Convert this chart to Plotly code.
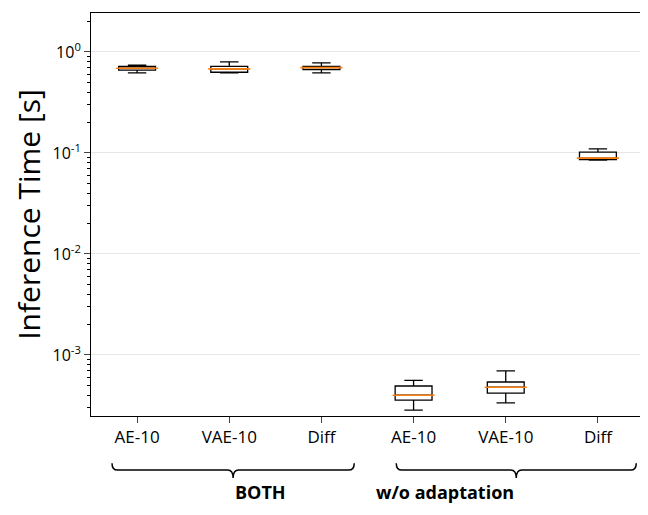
import plotly.graph_objects as go

positions = [0, 1, 2, 3, 4, 5]
tick_labels = ["AE-10", "VAE-10", "Diff", "AE-10", "VAE-10", "Diff"]
groups = ["BOTH", "w/o adaptation"]

lower = [0.62, 0.62, 0.62, 2.85e-4, 3.35e-4, 0.085]
q1 = [0.66, 0.63, 0.67, 3.58e-4, 4.2e-4, 0.086]
median = [0.69, 0.68, 0.70, 4.0e-4, 4.8e-4, 0.089]
q3 = [0.72, 0.72, 0.72, 4.93e-4, 5.4e-4, 0.102]
upper = [0.74, 0.80, 0.78, 5.6e-4, 6.95e-4, 0.11]

fig = go.Figure()
fig.add_trace(go.Box(x=positions, q1=q1, median=median, q3=q3,
                     lowerfence=lower, upperfence=upper,
                     fillcolor="white", line=dict(color="black", width=1.3),
                     width=0.4, whiskerwidth=0.5, boxpoints=False,
                     showlegend=False, hoverinfo="skip"))
fig.add_trace(go.Scatter(x=positions, y=median, mode="markers",
                         marker=dict(symbol="line-ew", size=30,
                                     line=dict(color="#ff7f0e", width=1.6)),
                         showlegend=False, hoverinfo="skip"))

major = [1e-3, 1e-2, 1e-1, 1]
minor = [m * 10 ** e for e in range(-4, 1) for m in range(2, 10)]
fig.update_yaxes(type="log", range=[-3.604, 0.386],
                 tickvals=major,
                 ticktext=["10<sup>-3</sup>", "10<sup>-2</sup>", "10<sup>-1</sup>", "10<sup>0</sup>"],
                 ticks="outside", ticklen=6, showgrid=True, gridcolor="#e6e6e6",
                 minor=dict(tickvals=minor, ticks="outside", ticklen=3, tickcolor="black", showgrid=False),
                 showline=True, linecolor="black", mirror=True, zeroline=False,
                 title=dict(text="Inference Time [s]", font=dict(size=30), standoff=6),
                 tickfont=dict(size=16, color="black"))
fig.update_xaxes(range=[-0.5, 5.5], tickvals=positions, ticktext=tick_labels,
                 ticks="outside", ticklen=6, showgrid=False, zeroline=False,
                 showline=True, linecolor="black", mirror=True,
                 tickfont=dict(size=17, color="black"))

def brace(x0, x1, ytop=-0.117, ymid=-0.134, ytip=-0.154):
    xm = (x0 + x1) / 2
    return (f"M{x0},{ytop} Q{x0},{ymid} {x0+0.01},{ymid} L{xm-0.01},{ymid} "
            f"Q{xm},{ymid} {xm},{ytip} Q{xm},{ymid} {xm+0.01},{ymid} "
            f"L{x1-0.01},{ymid} Q{x1},{ymid} {x1},{ytop}")

spans = [(0.038, 0.476), (0.552, 0.986)]
for (a, b), name in zip(spans, groups):
    fig.add_shape(type="path", path=brace(a, b), xref="paper", yref="paper",
                  line=dict(color="black", width=1.5))
    fig.add_annotation(x=(a + b) / 2, y=-0.223, xref="paper", yref="paper",
                       text=f"<b>{name}</b>", showarrow=False,
                       font=dict(size=18, color="black"))

fig.update_layout(width=648, height=515, margin=dict(l=83, r=12, t=5, b=107),
                  plot_bgcolor="white", paper_bgcolor="white",
                  font=dict(family="Open Sans, Calibri, sans-serif", color="black"))
fig.write_html("out.html")
